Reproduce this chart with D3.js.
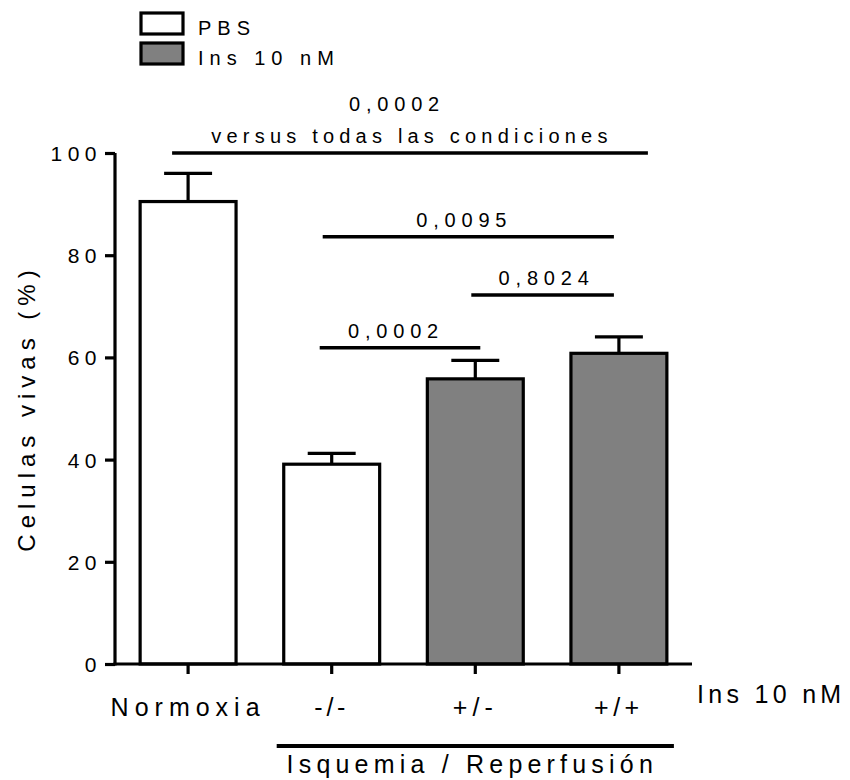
<!DOCTYPE html>
<html>
<head>
<meta charset="utf-8">
<script src="https://cdn.jsdelivr.net/npm/d3@7"></script>
<style>
  body { margin: 0; background: #fff; }
  svg text { font-family: "Liberation Sans", Arial, sans-serif; fill: #000; }
</style>
</head>
<body>
<svg id="chart" width="850" height="780"></svg>
<script>
// Viability per condition (mean and SEM, %)
const categories = ["Normoxia", "-/-", "+/-", "+/+"];
const meanValues = [90.5, 39.1, 55.8, 60.8];
const semValues = [5.5, 2.1, 3.6, 3.2];
const treatment = ["PBS", "PBS", "Ins 10 nM", "Ins 10 nM"];
const legendLabels = ["PBS", "Ins 10 nM"];
const yTicks = [0, 20, 40, 60, 80, 100];
const yTitle = "Celulas vivas (%)";
const factorLabel = "Ins 10 nM";
const groupLabel = "Isquemia / Reperfusión";

// Pairwise comparisons: p-values drawn above a horizontal line
const compFrom = ["Normoxia", "-/-", "+/-", "-/-"];
const compTo = ["+/+", "+/+", "+/+", "+/-"];
const compLevel = [100, 83.6, 72.2, 61.9];
const compText = [["0,0002", "versus todas las condiciones"], ["0,0095"], ["0,8024"], ["0,0002"]];

// ---- layout ----
const fills = { "PBS": "#ffffff", "Ins 10 nM": "#808080" };
const compEnds = [[-16, 29], [-9, -5], [-4, -5], [-12, 5]];
const compTextShift = [[-13, 2], [-4], [4], [-4]];
const catSpacing = { "Normoxia": 6, "-/-": 3.7, "+/-": 5, "+/+": 4.5 };
const svg = d3.select("#chart");

const x = d3.scaleBand()
  .domain(categories)
  .range([115, 692])
  .paddingInner(0.332)
  .paddingOuter(0.175);
const cx = c => x(c) + x.bandwidth() / 2;

const y = d3.scaleLinear().domain([0, 100]).range([664, 153]);

const rows = categories.map((c, i) => ({ cat: c, mean: meanValues[i], sem: semValues[i], grp: treatment[i] }));

// Bars
svg.append("g").selectAll("rect")
  .data(rows)
  .join("rect")
  .attr("x", d => x(d.cat))
  .attr("y", d => y(d.mean))
  .attr("width", x.bandwidth())
  .attr("height", d => y(0) - y(d.mean))
  .attr("fill", d => fills[d.grp])
  .attr("stroke", "#000")
  .attr("stroke-width", 3.2);

// Error bars (upper only)
const capW = x.bandwidth() * 0.5;
const err = svg.append("g").attr("stroke", "#000").attr("stroke-width", 3.2);
err.selectAll("line.v")
  .data(rows)
  .join("line")
  .attr("class", "v")
  .attr("x1", d => cx(d.cat))
  .attr("x2", d => cx(d.cat))
  .attr("y1", d => y(d.mean))
  .attr("y2", d => y(d.mean + d.sem));
err.selectAll("line.cap")
  .data(rows)
  .join("line")
  .attr("class", "cap")
  .attr("x1", d => cx(d.cat) - capW / 2)
  .attr("x2", d => cx(d.cat) + capW / 2)
  .attr("y1", d => y(d.mean + d.sem))
  .attr("y2", d => y(d.mean + d.sem));

// Y axis
const yAxis = svg.append("g")
  .attr("transform", `translate(${x.range()[0]},0)`)
  .call(d3.axisLeft(y).tickValues(yTicks).tickSize(10).tickSizeOuter(0).tickPadding(3));
yAxis.selectAll("path, line").attr("stroke", "#000").attr("stroke-width", 3.2);
yAxis.select(".domain").attr("d", `M0,${y(0) + 1.6}V${y(100)}`);
yAxis.selectAll("text")
  .style("font-size", "21px")
  .style("letter-spacing", "5.5px")
  .attr("dy", "0.36em");

// X axis
const xAxis = svg.append("g")
  .attr("transform", `translate(0,${y(0)})`)
  .call(d3.axisBottom(x).tickSize(10).tickSizeOuter(0).tickPadding(24));
xAxis.select(".domain").attr("d", `M${x.range()[0] - 1.6},0H${x.range()[1]}`);
xAxis.selectAll("path, line").attr("stroke", "#000").attr("stroke-width", 3.2);
xAxis.selectAll("text")
  .style("font-size", "25px")
  .style("letter-spacing", d => catSpacing[d] + "px");

// Factor label at the right of the category row
svg.append("text")
  .attr("x", 697)
  .attr("y", 703)
  .style("font-size", "25px")
  .style("letter-spacing", "4.3px")
  .text(factorLabel);

// Grouping line under the ischemia conditions
svg.append("line")
  .attr("x1", cx("-/-") - 55)
  .attr("x2", cx("+/+") + 55)
  .attr("y1", 746).attr("y2", 746)
  .attr("stroke", "#000").attr("stroke-width", 4);
svg.append("text")
  .attr("x", cx("+/-") - 3)
  .attr("y", 773)
  .attr("text-anchor", "middle")
  .style("font-size", "25px")
  .style("letter-spacing", "5.2px")
  .text(groupLabel);

// Y axis title
svg.append("text")
  .attr("transform", "translate(35,408) rotate(-90)")
  .attr("text-anchor", "middle")
  .style("font-size", "24px")
  .style("letter-spacing", "6px")
  .text(yTitle);

// Comparison lines and p-values
const comps = compFrom.map((f, i) => ({
  x1: cx(f) + compEnds[i][0],
  x2: cx(compTo[i]) + compEnds[i][1],
  yv: y(compLevel[i]),
  text: compText[i],
  shift: compTextShift[i]
}));
const cg = svg.append("g");
cg.selectAll("line")
  .data(comps)
  .join("line")
  .attr("x1", d => d.x1).attr("x2", d => d.x2)
  .attr("y1", d => d.yv).attr("y2", d => d.yv)
  .attr("stroke", "#000").attr("stroke-width", 3.5);
comps.forEach(d => {
  const n = d.text.length;
  d.text.forEach((t, j) => {
    const isNumber = /^[0-9,]+$/.test(t);
    cg.append("text")
      .attr("x", (d.x1 + d.x2) / 2 + d.shift[j])
      .attr("y", d.yv - 10 - (n - 1 - j) * 32)
      .attr("text-anchor", "middle")
      .style("font-size", "20px")
      .style("letter-spacing", isNumber ? "5.8px" : "5.2px")
      .text(t);
  });
});

// Legend
const leg = svg.append("g");
legendLabels.forEach((lab, i) => {
  leg.append("rect")
    .attr("x", 141).attr("y", 13 + i * 30)
    .attr("width", 42).attr("height", 21)
    .attr("fill", fills[lab])
    .attr("stroke", "#000").attr("stroke-width", 3.2);
  leg.append("text")
    .attr("x", 198).attr("y", 35 + i * 30)
    .style("font-size", "20px")
    .style("letter-spacing", "6px")
    .text(lab);
});
</script>
</body>
</html>
